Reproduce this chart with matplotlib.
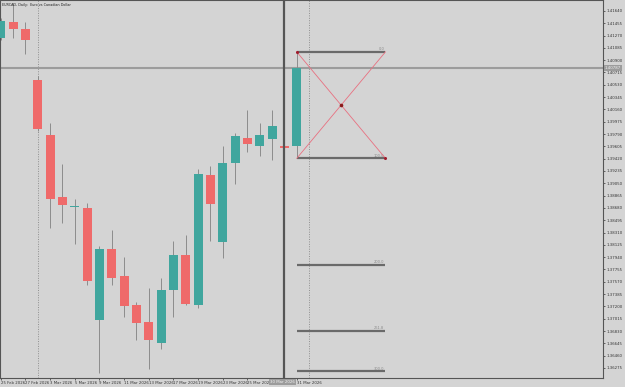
import matplotlib
matplotlib.use("Agg")
import matplotlib.pyplot as plt
import numpy as np

# daily EURCAD candles, 25 Feb 2026 .. 31 Mar 2026
dates = ["25 Feb 2026", "26 Feb 2026", "27 Feb 2026", "2 Mar 2026", "3 Mar 2026",
         "4 Mar 2026", "5 Mar 2026", "6 Mar 2026", "9 Mar 2026", "10 Mar 2026",
         "11 Mar 2026", "12 Mar 2026", "13 Mar 2026", "16 Mar 2026", "17 Mar 2026",
         "18 Mar 2026", "19 Mar 2026", "20 Mar 2026", "23 Mar 2026", "24 Mar 2026",
         "25 Mar 2026", "26 Mar 2026", "27 Mar 2026", "30 Mar 2026", "31 Mar 2026"]
opens = [1.41236, 1.41477, 1.41367, 1.40609, 1.39770, 1.38851, 1.38690, 1.38681,
         1.36994, 1.38063, 1.37656, 1.37220, 1.36968, 1.36647, 1.37446, 1.37977,
         1.37224, 1.39178, 1.38163, 1.39359, 1.39735, 1.39615, 1.39714, 1.39604,
         1.39609]
highs = [1.41533, 1.41759, 1.41472, 1.40659, 1.39955, 1.39333, 1.38816, 1.38750,
         1.38102, 1.38354, 1.37947, 1.37259, 1.37480, 1.37620, 1.38188, 1.38279,
         1.39268, 1.39303, 1.39604, 1.39805, 1.40157, 1.39961, 1.40147, 1.39610,
         1.41025]
lows = [1.41201, 1.41231, 1.40990, 1.39830, 1.38374, 1.38449, 1.38139, 1.37525,
        1.36200, 1.37525, 1.37043, 1.36692, 1.36260, 1.36566, 1.37043, 1.37224,
        1.37183, 1.38188, 1.37928, 1.39032, 1.39519, 1.39458, 1.39394, 1.39580,
        1.39424]
closes = [1.41488, 1.41367, 1.41201, 1.39865, 1.38816, 1.38720, 1.38711, 1.37575,
          1.38063, 1.37620, 1.37199, 1.36957, 1.36692, 1.37450, 1.37977, 1.37235,
          1.39193, 1.38735, 1.39353, 1.39755, 1.39639, 1.39770, 1.39906, 1.39585,
          1.40787]

price_ticks = [1.36275, 1.36460, 1.36645, 1.36830, 1.37015, 1.37200, 1.37385,
               1.37570, 1.37755, 1.37940, 1.38125, 1.38310, 1.38495, 1.38680,
               1.38865, 1.39050, 1.39235, 1.39420, 1.39605, 1.39790, 1.39975,
               1.40160, 1.40345, 1.40530, 1.40715, 1.40900, 1.41085, 1.41270,
               1.41455, 1.41640]
# 27 Mar label sits under the crosshair date box, so it is not shown
date_tick_idx = [0, 2, 4, 6, 8, 10, 12, 14, 16, 18, 20, 24]
month_sep_idx = [3, 25]          # 1st trading day of Mar / Apr

bid = 1.40787
crosshair_idx = 23
crosshair_label = "30 Mar 2026"

# fibo expansion on the last candle
fib_hi, fib_lo = 1.41025, 1.39424
fib_levels = [0.0, 100.0, 200.0, 261.8, 300.0]
fib_end = 31.2

BG = "#d4d4d4"
BULL = "#40a69e"
BEAR = "#ef6a6a"
WICK = "#8c8c8c"
FIB = "#6a6a6a"
XLINE = "#e87080"
YMIN, YMAX = 1.36124, 1.41804

fig = plt.figure(figsize=(6.25, 3.87), dpi=100, facecolor=BG)
ax = fig.add_axes([0.0, 9 / 387, 603 / 625, 378 / 387])
ax.set_facecolor(BG)

x = np.arange(len(opens))
o, h, l, c = map(np.array, (opens, highs, lows, closes))
up = c >= o
ax.vlines(x, l, h, color=WICK, lw=0.7, zorder=2)
body = np.maximum(np.abs(c - o), 0.00008)
ax.bar(x, body, bottom=np.minimum(o, c), width=0.72,
       color=np.where(up, BULL, BEAR), edgecolor="none", zorder=3)

# month separators
for i in month_sep_idx:
    ax.axvline(i, color="#8f8f8f", lw=0.7, ls=(0, (1, 1.5)), zorder=1)

# bid line / crosshair
ax.axhline(bid, color="#9c9c9c", lw=1.5, zorder=1)
ax.axvline(crosshair_idx, color="#555555", lw=1.6, zorder=4)

# fibo levels
for lv in fib_levels:
    p = fib_hi - (fib_hi - fib_lo) * lv / 100.0
    ax.hlines(p, x[-1], fib_end, color=FIB, lw=1.6, zorder=4)
    ax.text(fib_end - 0.1, p + 0.00008, f"{lv:.1f}", fontsize=2.6, color="#8a8a8a",
            ha="right", va="bottom", zorder=5)
ax.plot([x[-1], fib_end], [fib_hi, fib_lo], color=XLINE, lw=0.6, zorder=5)
ax.plot([x[-1], fib_end], [fib_lo, fib_hi], color=XLINE, lw=0.6, zorder=5)
ax.plot([(x[-1] + fib_end) / 2], [(fib_hi + fib_lo) / 2], "o", ms=1.6,
        color="#8b1a1a", zorder=6)
ax.plot([x[-1], fib_end], [fib_hi, fib_lo], "o", ms=1.2, color="#a01c2c", zorder=6)

ax.set_xlim(-0.065, 48.84)
ax.set_ylim(YMIN, YMAX)

ax.yaxis.tick_right()
ax.set_yticks(price_ticks)
ax.set_yticklabels([f"{p:.5f}" for p in price_ticks])
ax.set_xticks(date_tick_idx)
ax.set_xticklabels([dates[i] for i in date_tick_idx], ha="left")
ax.tick_params(axis="both", labelsize=2.8, colors="#333333", length=1.5, width=0.5,
               pad=1.0)
for s in ax.spines.values():
    s.set_color("#555555")
    s.set_linewidth(0.8)

# axis highlight boxes
ax.text(1.003, (bid - YMIN) / (YMAX - YMIN), f"{bid:.5f}",
        transform=ax.transAxes, fontsize=2.8, color="#f4f4f4", va="center", ha="left",
        bbox=dict(boxstyle="square,pad=0.3", fc="#9c9c9c", ec="none"), zorder=7,
        clip_on=False)
ax.text(crosshair_idx - 1.15, YMIN - 0.00035, crosshair_label, fontsize=2.8,
        color="#f4f4f4", ha="left", va="top",
        bbox=dict(boxstyle="square,pad=0.3", fc="#9c9c9c", ec="none"), zorder=7,
        clip_on=False)

ax.text(0.004, 0.993, "EURCAD, Daily:  Euro vs Canadian Dollar", transform=ax.transAxes,
        fontsize=2.4, color="#222222", ha="left", va="top", zorder=7)

fig.savefig("out.png", dpi=100, facecolor=BG)
